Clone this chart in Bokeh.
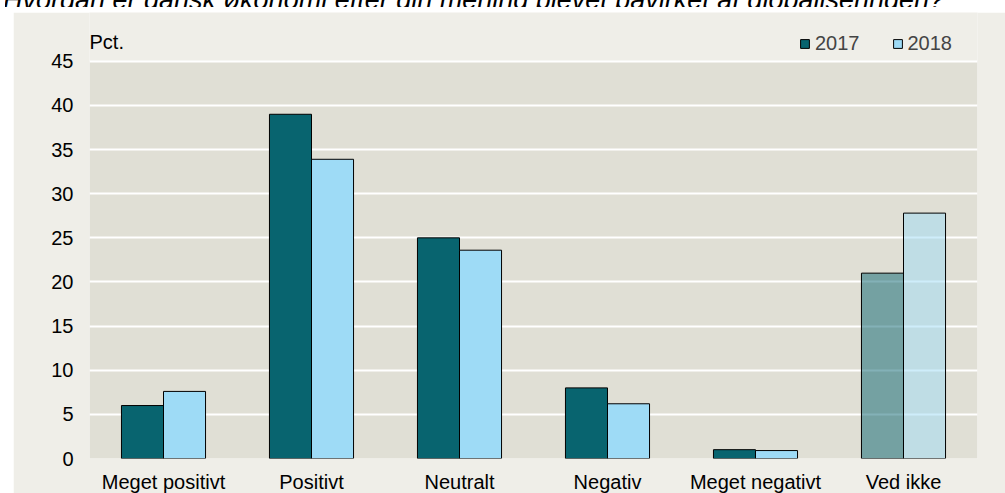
from bokeh.plotting import figure
from bokeh.models import (ColumnDataSource, FactorRange, Legend, LegendItem, Label,
                          FixedTicker, Div, Spacer, BoxAnnotation)
from bokeh.layouts import column, row
from bokeh.transform import dodge
from bokeh.embed import file_html
from bokeh.resources import INLINE

title = "Hvordan er dansk økonomi efter din mening blevet påvirket af globaliseringen?"
categories = ["Meget positivt", "Positivt", "Neutralt", "Negativ", "Meget negativt", "Ved ikke"]
values_2017 = [6.0, 39.0, 25.0, 8.0, 1.0, 21.0]
values_2018 = [7.6, 33.9, 23.6, 6.2, 0.9, 27.8]
bar_alpha = [1, 1, 1, 1, 1, 0.5]
series_names = ["2017", "2018"]
y_ticks = [0, 5, 10, 15, 20, 25, 30, 35, 40, 45]
unit_label = "Pct."

FONT = "Liberation Sans"
C2017 = "#08646f"
C2018 = "#9edbf6"
PLOT_BG = "#e0dfd5"
PANEL_BG = "#efeee8"

src = ColumnDataSource(dict(cat=categories, v2017=values_2017, v2018=values_2018, a=bar_alpha))

p = figure(x_range=FactorRange(factors=categories, range_padding=0), y_range=(0, 50.53),
           width=992, height=483, output_backend="svg", toolbar_location=None,
           min_border_left=76, min_border_right=28, min_border_top=0, min_border_bottom=35)
p.background_fill_color = PANEL_BG
p.border_fill_color = PANEL_BG
p.outline_line_color = None

p.add_layout(BoxAnnotation(bottom=0, top=45, fill_color=PLOT_BG, fill_alpha=1,
                           line_color=None, level="image"))

r1 = p.vbar(x=dodge("cat", -0.142, range=p.x_range), top="v2017", width=0.284, source=src,
            fill_color=C2017, fill_alpha="a", line_color="black", line_width=1)
r2 = p.vbar(x=dodge("cat", 0.142, range=p.x_range), top="v2018", width=0.284, source=src,
            fill_color=C2018, fill_alpha="a", line_color="black", line_width=1)

p.yaxis.ticker = FixedTicker(ticks=y_ticks)
p.yaxis.bounds = (0, 45)
for ax in (p.xaxis[0], p.yaxis[0]):
    ax.axis_line_color = None
    ax.major_tick_line_color = None
    ax.minor_tick_line_color = None
    ax.major_tick_out = 0
    ax.major_label_text_font = FONT
    ax.major_label_text_font_size = "20px"
    ax.major_label_text_color = "black"
p.yaxis.major_label_standoff = 16
p.xaxis.major_label_standoff = 12

p.xgrid.grid_line_color = None
p.ygrid.grid_line_color = "white"
p.ygrid.grid_line_width = 2
p.ygrid.bounds = (0, 45)

p.add_layout(Label(x=0, y=417, x_units="screen", y_units="screen", text=unit_label,
                   text_font=FONT, text_font_size="20px", text_color="black",
                   text_baseline="alphabetic"))

legend = Legend(items=[LegendItem(label=series_names[0], renderers=[r1]),
                       LegendItem(label=series_names[1], renderers=[r2])],
                location=(710, 403), orientation="horizontal")
legend.background_fill_alpha = 0
legend.border_line_alpha = 0
legend.padding = 0
legend.margin = 0
legend.spacing = 32
legend.label_standoff = 5
legend.glyph_width = 11
legend.glyph_height = 11
legend.label_text_font = FONT
legend.label_text_font_size = "20px"
p.add_layout(legend)

title_div = Div(text=('<div style="font: italic 27px \'Liberation Sans\', Arial, sans-serif; '
                      'white-space: nowrap; line-height: 27px; margin-top: -18px; '
                      'margin-left: -2px; color: #000;">' + title + '</div>'),
                width=1005, height=10, styles={"overflow": "hidden"})

root = column(title_div, row(Spacer(width=13, height=483), p), spacing=0)
root.styles = {"margin": "-8px -8px -8px 0px"}

open("out.html", "w").write(file_html(root, INLINE))
